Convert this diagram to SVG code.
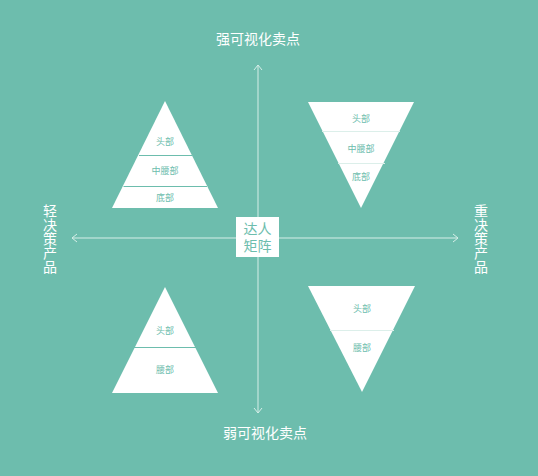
<svg xmlns="http://www.w3.org/2000/svg" width="538" height="476" viewBox="0 0 538 476">
<defs>
<style>
.cjk{font-family:"Noto Sans CJK SC","Liberation Sans",sans-serif;}
.lbl{font-size:14px;fill:#ffffff;text-anchor:middle;}
.vlbl{font-size:14px;fill:#ffffff;writing-mode:vertical-rl;text-anchor:start;}
.small{font-size:9px;fill:#6dbdad;text-anchor:middle;}
.tri{fill:#ffffff;}
.div{stroke:#6dbdad;stroke-width:1;}
.divl{stroke:#dcefea;stroke-width:1;}
.axis{stroke:#d6eee8;stroke-width:1;fill:none;}
</style>
</defs>
<rect width="538" height="476" fill="#6dbdad"/>
<g id="connectors">
<line class="axis" x1="258" y1="65" x2="258" y2="413"/>
<line class="axis" x1="72" y1="238" x2="458" y2="238"/>
<polyline class="axis" points="254,70 258,65 262,70"/>
<polyline class="axis" points="254,408 258,413 262,408"/>
<polyline class="axis" points="77,234 72,238 77,242"/>
<polyline class="axis" points="453,234 458,238 453,242"/>
</g>
<g id="top-label"><text class="cjk lbl" x="258" y="44">强可视化卖点</text></g>
<g id="bottom-label"><text class="cjk lbl" x="265" y="438">弱可视化卖点</text></g>
<g id="left-label"><text class="cjk vlbl" x="50" y="204">轻决策产品</text></g>
<g id="right-label"><text class="cjk vlbl" x="481" y="204">重决策产品</text></g>
<g id="center">
<rect x="236" y="217" width="43" height="40" fill="#ffffff"/>
<text class="cjk" x="257.5" y="234" font-size="14" fill="#6dbdad" text-anchor="middle"><tspan x="257.5" y="234">达人</tspan><tspan x="257.5" y="251">矩阵</tspan></text>
</g>
<g id="tri-top-left">
<polygon class="tri" points="165,101 218,208 112,208"/>
<line class="div" x1="139" y1="155.5" x2="192" y2="155.5"/>
<line class="div" x1="123.5" y1="186.5" x2="207" y2="186.5"/>
<text class="cjk small" x="165" y="145">头部</text>
<text class="cjk small" x="165" y="174">中腰部</text>
<text class="cjk small" x="165" y="201">底部</text>
</g>
<g id="tri-top-right">
<polygon class="tri" points="308,102 414,102 361,208"/>
<line class="divl" x1="322" y1="131.5" x2="400" y2="131.5"/>
<line class="divl" x1="338" y1="163.5" x2="385" y2="163.5"/>
<text class="cjk small" x="361" y="122">头部</text>
<text class="cjk small" x="361" y="152">中腰部</text>
<text class="cjk small" x="361" y="180">底部</text>
</g>
<g id="tri-bottom-left">
<polygon class="tri" points="165,287 218,393 112,393"/>
<line class="div" x1="134" y1="347.5" x2="196" y2="347.5"/>
<text class="cjk small" x="165" y="334">头部</text>
<text class="cjk small" x="165" y="373">腰部</text>
</g>
<g id="tri-bottom-right">
<polygon class="tri" points="308,286 415,286 362,392"/>
<line class="divl" x1="330" y1="330.5" x2="394" y2="330.5"/>
<text class="cjk small" x="362" y="312">头部</text>
<text class="cjk small" x="362" y="351">腰部</text>
</g>
</svg>
